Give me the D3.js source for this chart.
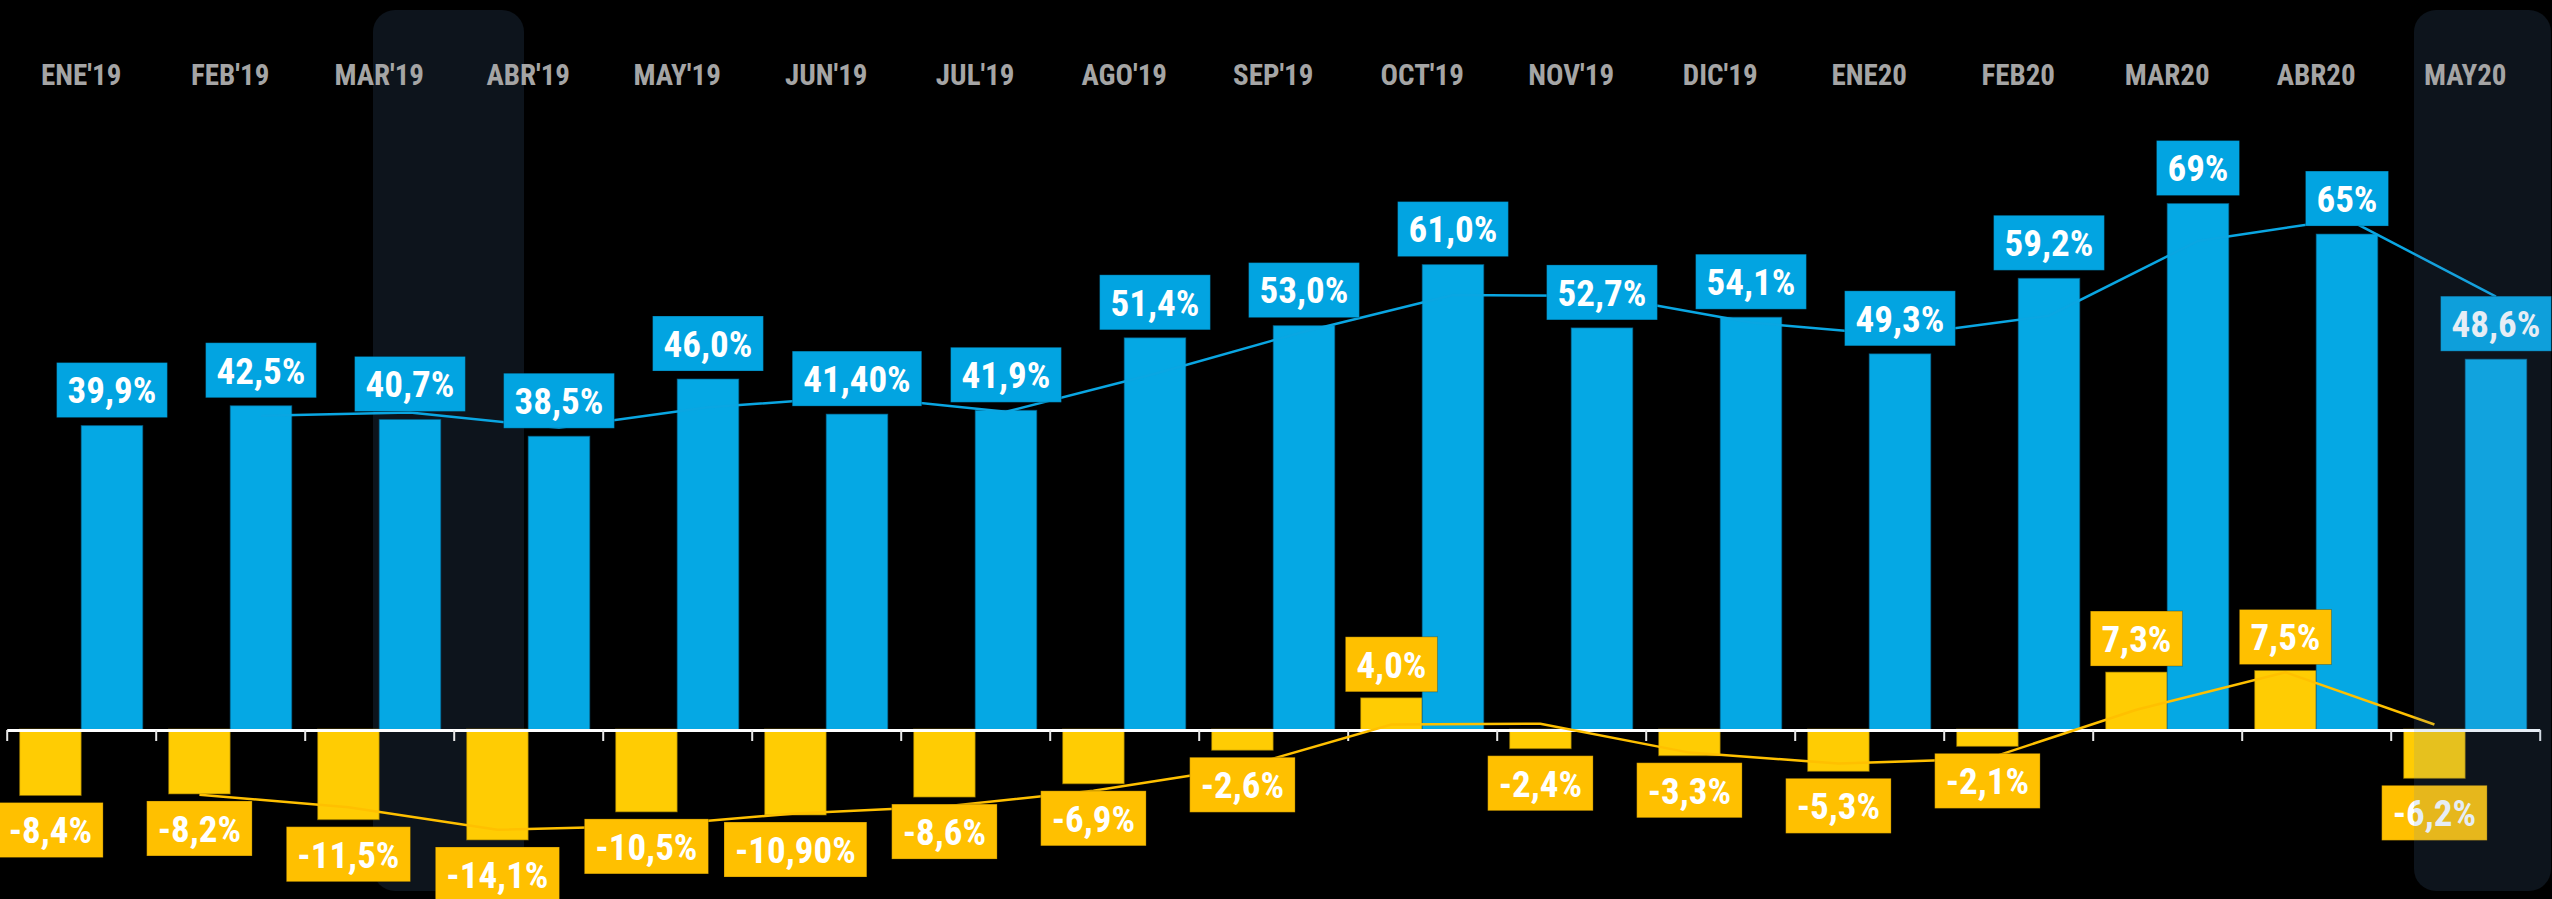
<!DOCTYPE html>
<html>
<head>
<meta charset="utf-8">
<script src="https://cdn.jsdelivr.net/npm/d3@7"></script>
<style>
  html, body { margin: 0; padding: 0; background: #000; }
  svg { display: block; }
  text { font-family: "Liberation Sans Narrow", "Arial Narrow", "Roboto Condensed", sans-serif; font-weight: bold; }
</style>
</head>
<body>
<div class="chart"></div>
<script>
// data
const months = ["ENE'19","FEB'19","MAR'19","ABR'19","MAY'19","JUN'19","JUL'19","AGO'19","SEP'19","OCT'19","NOV'19","DIC'19","ENE20","FEB20","MAR20","ABR20","MAY20"]
const shareValues = [39.9, 42.5, 40.7, 38.5, 46.0, 41.4, 41.9, 51.4, 53.0, 61.0, 52.7, 54.1, 49.3, 59.2, 69, 65, 48.6]
const shareLabels = ["39,9%","42,5%","40,7%","38,5%","46,0%","41,40%","41,9%","51,4%","53,0%","61,0%","52,7%","54,1%","49,3%","59,2%","69%","65%","48,6%"]
const changeValues = [-8.4, -8.2, -11.5, -14.1, -10.5, -10.9, -8.6, -6.9, -2.6, 4.0, -2.4, -3.3, -5.3, -2.1, 7.3, 7.5, -6.2]
const changeLabels = ["-8,4%","-8,2%","-11,5%","-14,1%","-10,5%","-10,90%","-8,6%","-6,9%","-2,6%","4,0%","-2,4%","-3,3%","-5,3%","-2,1%","7,3%","7,5%","-6,2%"]
// trend lines (first month has no point)
const shareTrend = [null, 41.2, 41.6, 39.6, 42.3, 43.7, 41.7, 46.7, 52.2, 57.0, 56.9, 53.4, 51.7, 54.3, 64.1, 67.0, 56.8]
const changeTrend = [null, -8.3, -9.9, -12.8, -12.3, -10.7, -9.8, -7.8, -4.8, 0.7, 0.8, -2.9, -4.3, -3.7, 2.6, 7.4, 0.7]

const width = 2552
const height = 899
const axisY = 730

const blue = "#05a8e4"
const blueBox = "#02a4e1"
const yellow = "#ffcc03"
const yellowBox = "#ffc000"

const svg = d3.select('.chart')
  .append('svg')
  .attr('width', width)
  .attr('height', height)

svg.append('rect')
  .attr('width', width)
  .attr('height', height)
  .attr('fill', '#000')

// scales
const x0 = d3.scaleBand()
  .domain(months)
  .range([6.7, 6.7 + 17 * 149])

const x1 = d3.scaleBand()
  .domain(['change', 'share'])
  .range([0, x0.bandwidth()])
  .paddingOuter(0.21)

const yShare = d3.scaleLinear()
  .domain([0, 80])
  .range([axisY, axisY - 610.4])

const yChange = d3.scaleLinear()
  .domain([0, 10])
  .range([axisY, axisY - 78])

const rows = months.map((m, i) => ({
  month: m,
  share: shareValues[i],
  shareLabel: shareLabels[i],
  change: changeValues[i],
  changeLabel: changeLabels[i],
  shareTrend: shareTrend[i],
  changeTrend: changeTrend[i]
}))

const cx = (d, key) => x0(d.month) + x1(key) + x1.bandwidth() / 2

// highlight panel behind the bars
svg.append('rect')
  .attr('x', x0("ABR'19") - 80.7)
  .attr('y', 10)
  .attr('width', 151)
  .attr('height', 881)
  .attr('rx', 22)
  .attr('fill', '#0d141c')

// bars
svg.selectAll('.bar-change')
  .data(rows)
  .join('rect')
  .attr('class', 'bar-change')
  .attr('x', d => x0(d.month) + x1('change'))
  .attr('y', d => Math.min(yChange(d.change), yChange(0)) - 1)
  .attr('width', x1.bandwidth())
  .attr('height', d => Math.abs(yChange(d.change) - yChange(0)) + 1)
  .attr('fill', yellow)
  .attr('stroke', '#8a6d00')
  .attr('stroke-opacity', 0.6)
  .attr('stroke-width', 1)

svg.selectAll('.bar-share')
  .data(rows)
  .join('rect')
  .attr('class', 'bar-share')
  .attr('x', d => x0(d.month) + x1('share'))
  .attr('y', d => yShare(d.share))
  .attr('width', x1.bandwidth())
  .attr('height', d => yShare(0) - yShare(d.share))
  .attr('fill', blue)
  .attr('stroke', '#06618a')
  .attr('stroke-opacity', 0.6)
  .attr('stroke-width', 1)

// axis with ticks on the month boundaries
const xEdges = d3.scaleLinear().domain([0, 17]).range(x0.range())
const axis = svg.append('g')
  .attr('transform', `translate(0,${axisY})`)
  .call(d3.axisBottom(xEdges).ticks(17).tickFormat('').tickSize(11).tickSizeOuter(0))
axis.select('.domain').attr('stroke', '#ffffff').attr('stroke-width', 3)
axis.selectAll('.tick line').attr('stroke', '#e8e8e8').attr('stroke-width', 2)

// trend lines
const shareLine = d3.line()
  .defined(d => d.shareTrend != null)
  .x(d => cx(d, 'share'))
  .y(d => yShare(d.shareTrend))

const changeLine = d3.line()
  .defined(d => d.changeTrend != null)
  .x(d => cx(d, 'change'))
  .y(d => yChange(d.changeTrend))

svg.append('path')
  .datum(rows)
  .attr('d', shareLine)
  .attr('fill', 'none')
  .attr('stroke', '#0aa6e2')
  .attr('stroke-width', 2.5)

svg.append('path')
  .datum(rows)
  .attr('d', changeLine)
  .attr('fill', 'none')
  .attr('stroke', '#ffc000')
  .attr('stroke-width', 2.5)

// data labels
const boxH = 55
const addLabel = (g, text, centerX, top, fill) => {
  const t = g.append('text')
    .text(text)
    .attr('x', centerX)
    .attr('y', top + boxH / 2)
    .attr('dy', '0.36em')
    .attr('text-anchor', 'middle')
    .attr('font-size', 37)
    .attr('fill', '#ffffff')
  const w = t.node().getComputedTextLength() + 22
  g.insert('rect', 'text')
    .attr('x', centerX - w / 2)
    .attr('y', top)
    .attr('width', w)
    .attr('height', boxH)
    .attr('fill', fill)
    .attr('stroke', 'rgba(0,0,0,0.25)')
    .attr('stroke-width', 1)
}

rows.forEach(d => {
  const g = svg.append('g')
  addLabel(g, d.shareLabel, cx(d, 'share'), yShare(d.share) - 8 - boxH, blueBox)
})

rows.forEach(d => {
  const g = svg.append('g')
  const top = d.change < 0 ? yChange(d.change) + 7 : yChange(d.change) - 7 - boxH
  addLabel(g, d.changeLabel, cx(d, 'change'), top, yellowBox)
})

// translucent highlight over the last month
svg.append('rect')
  .attr('x', x0('MAY20') + 23.3)
  .attr('y', 10)
  .attr('width', 137)
  .attr('height', 881)
  .attr('rx', 22)
  .attr('fill', 'rgb(87,133,187)')
  .attr('fill-opacity', 0.15)

// month labels
svg.selectAll('.month')
  .data(months)
  .join('text')
  .attr('class', 'month')
  .attr('x', d => x0(d) + x0.bandwidth() / 2)
  .attr('y', 85)
  .attr('text-anchor', 'middle')
  .attr('font-size', 29)
  .attr('fill', '#a5a5a5')
  .text(d => d)
</script>
</body>
</html>
